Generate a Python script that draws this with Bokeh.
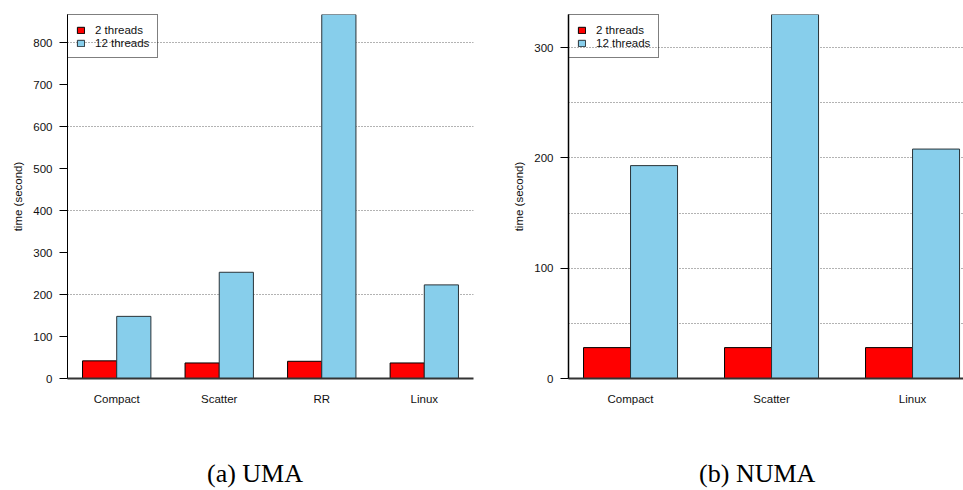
from bokeh.plotting import figure
from bokeh.models import Range1d, FixedTicker, Label
from bokeh.layouts import row, column
from bokeh.embed import file_html
from bokeh.resources import INLINE

# ---- data ----
uma_categories = ["Compact", "Scatter", "RR", "Linux"]
uma_2threads = [42, 37, 41, 37]
uma_12threads = [148, 253, 867, 223]
uma_yticks = [0, 100, 200, 300, 400, 500, 600, 700, 800]
uma_grid = [200, 400, 600, 800]

numa_categories = ["Compact", "Scatter", "Linux"]
numa_2threads = [28, 28, 28]
numa_12threads = [193, 330, 208]
numa_yticks = [0, 100, 200, 300]
numa_grid = [50, 100, 150, 200, 250, 300]

series_labels = ["2 threads", "12 threads"]
captions = ["(a) UMA", "(b) NUMA"]

RED = "#ff0000"
BLUE = "#87ceeb"
FONT = "Liberation Sans"


def make_chart(cats, v2, v12, yticks, grid, width, x_start, x_end,
               mb_left, mb_right, axis_w):
    n = len(cats)
    centers = [3 * i + 2 for i in range(n)]
    p = figure(width=width, height=430, output_backend="svg", toolbar_location=None,
               x_range=Range1d(x_start, x_end), y_range=Range1d(0, max(v12)),
               min_border_left=mb_left, min_border_right=mb_right,
               min_border_top=14, min_border_bottom=52)
    p.outline_line_color = None
    p.background_fill_color = "white"
    p.border_fill_color = "white"

    p.vbar(x=[c - 0.5 for c in centers], top=v2, bottom=0, width=1.0,
           fill_color=RED, line_color="black", line_width=1,
           legend_label=series_labels[0])
    p.vbar(x=[c + 0.5 for c in centers], top=v12, bottom=0, width=1.0,
           fill_color=BLUE, line_color="#2a3338", line_width=1,
           legend_label=series_labels[1])

    # x axis
    xa = p.xaxis[0]
    xa.ticker = FixedTicker(ticks=centers)
    xa.major_label_overrides = {c: name for c, name in zip(centers, cats)}
    xa.major_tick_out = 0
    xa.major_tick_in = 0
    xa.minor_tick_out = 0
    xa.minor_tick_in = 0
    xa.axis_line_width = 2
    xa.axis_line_color = "#333333"
    xa.major_label_standoff = 14
    xa.major_label_text_font = FONT
    xa.major_label_text_font_size = "11.5px"
    xa.major_label_text_color = "#111111"

    # y axis
    ya = p.yaxis[0]
    ya.ticker = FixedTicker(ticks=yticks)
    ya.major_tick_out = 8
    ya.major_tick_in = 0
    ya.minor_tick_out = 0
    ya.minor_tick_in = 0
    ya.major_tick_line_color = "black"
    ya.axis_line_color = "black"
    ya.axis_line_width = axis_w
    ya.major_label_standoff = 7
    ya.major_label_text_font = FONT
    ya.major_label_text_font_size = "11.5px"
    ya.major_label_text_color = "#111111"
    ya.axis_label = "time (second)"
    ya.axis_label_text_font = FONT
    ya.axis_label_text_font_style = "normal"
    ya.axis_label_text_font_size = "11.5px"
    ya.axis_label_text_color = "#111111"
    ya.axis_label_standoff = 6

    # grid
    p.xgrid.visible = False
    p.ygrid.ticker = FixedTicker(ticks=grid)
    p.ygrid.grid_line_color = "#666666"
    p.ygrid.grid_line_dash = "1 2"
    p.ygrid.grid_line_width = 1

    # legend
    lg = p.legend[0]
    lg.location = "top_left"
    lg.margin = 0
    lg.padding = 8
    lg.spacing = 0
    lg.border_line_color = "black"
    lg.border_line_width = 1
    lg.background_fill_alpha = 0
    lg.label_text_font = FONT
    lg.label_text_font_size = "11.5px"
    lg.label_text_color = "#111111"
    lg.label_height = 13
    lg.glyph_width = 9
    lg.glyph_height = 8
    lg.label_standoff = 10
    return p


def make_caption(text, width, cx):
    c = figure(width=width, height=60, output_backend="svg", toolbar_location=None,
               x_range=Range1d(0, 1), y_range=Range1d(0, 1),
               x_axis_type=None, y_axis_type=None,
               min_border_left=0, min_border_right=0, min_border_top=0, min_border_bottom=0)
    c.outline_line_color = None
    c.xgrid.visible = False
    c.ygrid.visible = False
    c.add_layout(Label(x=cx, y=17, x_units="screen", y_units="screen", text=text,
                       text_font="Liberation Serif", text_font_size="26px",
                       text_align="center", text_baseline="middle",
                       text_color="black"))
    return c


p1 = make_chart(uma_categories, uma_2threads, uma_12threads, uma_yticks, uma_grid,
                width=480, x_start=0.56, x_end=12.44, mb_left=67, mb_right=7, axis_w=1)
p2 = make_chart(numa_categories, numa_2threads, numa_12threads, numa_yticks, numa_grid,
                width=483, x_start=0.68, x_end=0.68 + 395 / 47.0, mb_left=88, mb_right=0,
                axis_w=1.5)
c1 = make_caption(captions[0], 480, 254.5)
c2 = make_caption(captions[1], 483, 276.7)

layout = column(row(p1, p2, spacing=0), row(c1, c2, spacing=0), spacing=0)
open("out.html", "w").write(file_html(layout, INLINE))
